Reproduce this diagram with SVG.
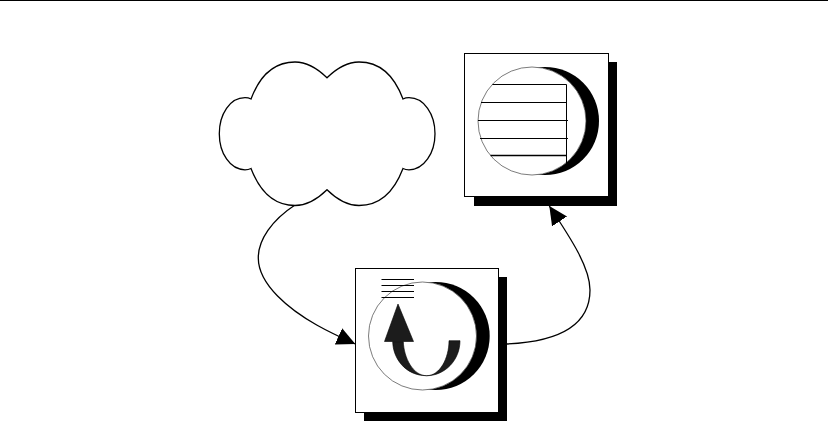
<svg xmlns="http://www.w3.org/2000/svg" width="828" height="421" viewBox="0 0 828 421">
<style>
.o{fill:#fff;stroke:#000;stroke-width:1}
.s{fill:#000}
.l{fill:none;stroke:#000;stroke-width:1}
.c{fill:none;stroke:#000;stroke-width:1.3}
.d{fill:#1c1c1c;stroke:#000;stroke-width:.6}
.ring{fill:#fff;stroke:#444;stroke-width:.7}
</style>
<defs>
<marker id="a" markerUnits="userSpaceOnUse" markerWidth="24" markerHeight="20" refX="18.500" refY="9" orient="auto"><path d="M0 0L18.500 9L0 18Z" fill="#000"/></marker>
</defs>
<rect width="828" height="421" fill="#fff"/>
<path d="M0 .5H828" class="l"/>
<g id="connectors">
<path class="c" d="M295 205C272 220 258 240 258.300 258.300C258.500 285 290 310 316.700 325C330 332.500 342 338 355.300 344" marker-end="url(#a)"/>
<path class="c" d="M507 344C550 342 590 330 590 290C590 268 572 240 549.300 206" marker-end="url(#a)"/>
</g>
<g id="cloud">
<path fill="#fff" stroke="#000" stroke-width="1.3" d="M327 77.800C316 67 306 62 295 62C275 62 260 75 251 99C249 98 247 97.700 245 97.700C230 97.700 219.300 114 219.300 133.700C219.300 153 230 169.800 245 169.800C247 169.800 249 169.500 251 168.500C260 192 275 205.500 295 205.500C306 205.500 316 200.500 327 189.700C338 200.500 348 205.500 359 205.500C379 205.500 394 192 403 168.500C405 169.500 407 169.800 409 169.800C424 169.800 435 153 435 133.700C435 114 424 97.700 409 97.700C407 97.700 405 98 403 99C394 75 379 62 359 62C348 62 338 67 327 77.800Z"/>
</g>
<g id="top-node">
<rect class="s" x="474" y="62" width="143" height="144"/>
<rect class="o" x="464.500" y="53.500" width="144" height="143"/>
<circle class="s" cx="545" cy="121" r="54"/>
<circle class="ring" cx="532" cy="121" r="54"/>
<path class="l" d="M492.500 84.500H566.500M481 102.500H566.500M478 120.500H568M480 138.500H568M566.500 84.500V163"/>
<path fill="none" stroke="#000" stroke-width="1.6" d="M490.500 155.500H566.500"/>
</g>
<g id="bottom-node">
<rect class="s" x="364" y="277" width="143" height="144"/>
<rect class="o" x="355.500" y="268.500" width="143" height="144"/>
<circle class="s" cx="435.700" cy="336" r="54"/>
<circle class="ring" cx="422.500" cy="336" r="54"/>
<path class="l" d="M381.500 279.500H414M381.500 285.500H414M381.500 291.500H414M381.500 297.500H414"/>
<path class="d" d="M398 304L413.500 341.500H384.500Z"/>
<path class="d" d="M392.700 341.700C393 358 405 375.700 426.700 375.700C445 375.700 460 360 460 340.700H449C449 358 440 375.700 426.700 375.700C413 375.700 404 358 403.300 341.700Z"/>
</g>
</svg>
